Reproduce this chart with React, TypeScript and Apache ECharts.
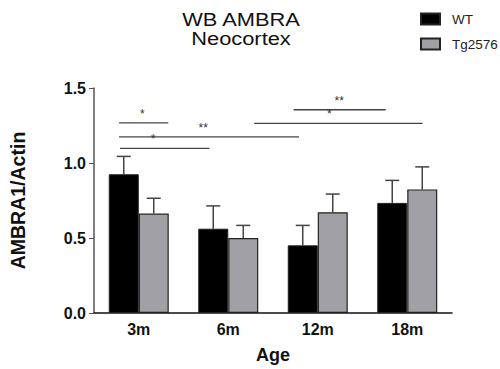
import React, { useEffect, useRef } from "react";
import * as echarts from "echarts";

const categories = ["3m", "6m", "12m", "18m"];
const wtMeans = [0.925, 0.562, 0.451, 0.734];
const wtErr = [1.044, 0.714, 0.584, 0.884];
const tgMeans = [0.663, 0.5, 0.672, 0.824];
const tgErr = [0.765, 0.584, 0.793, 0.974];
const yTicks = { min: 0, max: 1.5, interval: 0.5 };
const titleLines = ["WB AMBRA", "Neocortex"];
// brackets: [xStart, xEnd, y, label, labelX] (x in category-index units)
const brackets: [number, number, number, string, number][] = [
  [-0.22, 0.33, 1.267, "*", 0.04],
  [-0.22, 1.79, 1.174, "**", 0.72],
  [-0.21, 0.79, 1.097, "*", 0.16],
  [1.73, 2.76, 1.355, "**", 2.24],
  [1.29, 3.17, 1.264, "*", 2.13],
];

const FONT = "'Liberation Sans', Arial, sans-serif";
const BAR_W = 30;

export default function App() {
  const ref = useRef<HTMLDivElement>(null);
  useEffect(() => {
    if (!ref.current) return;
    const chart = echarts.init(ref.current, null, { renderer: "svg" });
    const errSeries = (means: number[], errs: number[], off: number) => ({
      type: "custom",
      xAxisIndex: 0,
      yAxisIndex: 0,
      z: 1,
      silent: true,
      data: means.map((m, i) => [i, m, errs[i]]),
      renderItem: (params: any, api: any) => {
        const i = api.value(0);
        const p0 = api.coord([i, api.value(1)]);
        const p1 = api.coord([i, api.value(2)]);
        const x = p0[0] + off;
        const st = { stroke: "#444", lineWidth: 1.5 };
        return {
          type: "group",
          children: [
            { type: "line", shape: { x1: x, y1: p0[1], x2: x, y2: p1[1] }, style: st },
            { type: "line", shape: { x1: x - 7, y1: p1[1], x2: x + 7, y2: p1[1] }, style: st },
          ],
        };
      },
    });
    chart.setOption({
      animation: false,
      graphic: titleLines.map((t, i) => ({
        type: "text",
        x: 241,
        y: 19 + i * 19.5,
        scaleX: 1.15,
        style: {
          text: t,
          align: "center",
          verticalAlign: "middle",
          fontFamily: FONT,
          fontSize: 19,
          fill: "#111",
        },
      })),
      legend: {
        orient: "vertical",
        left: 420,
        top: 12,
        padding: 0,
        itemWidth: 19,
        itemHeight: 11,
        itemGap: 11,
        icon: "rect",
        textStyle: { fontFamily: FONT, fontSize: 13.5, color: "#222", padding: [0, 0, 0, 7] },
        data: ["WT", "Tg2576"],
      },
      grid: { left: 92, right: 48, top: 88, bottom: 54 },
      xAxis: [
        {
          type: "category",
          data: categories,
          name: "Age",
          nameLocation: "middle",
          nameGap: 33,
          nameTextStyle: { fontFamily: FONT, fontSize: 18, fontWeight: "bold", color: "#111" },
          axisLine: { lineStyle: { color: "#111", width: 1.5 } },
          axisTick: { alignWithLabel: true, length: 4, lineStyle: { color: "#111" } },
          axisLabel: { fontFamily: FONT, fontSize: 16, fontWeight: "bold", color: "#111", margin: 8 },
        },
        { type: "value", min: -0.5, max: 3.5, show: false },
      ],
      yAxis: {
        type: "value",
        min: yTicks.min,
        max: yTicks.max,
        interval: yTicks.interval,
        name: "AMBRA1/Actin",
        nameLocation: "middle",
        nameGap: 66,
        nameTextStyle: { fontFamily: FONT, fontSize: 19.5, fontWeight: "bold", color: "#111" },
        splitLine: { show: false },
        axisLine: { show: true, onZero: false, lineStyle: { color: "#555", width: 1.5 } },
        axisTick: { show: true, length: 5, lineStyle: { color: "#555" } },
        axisLabel: {
          fontFamily: FONT,
          fontSize: 16,
          fontWeight: "bold",
          color: "#111",
          margin: 8,
          formatter: (v: number) => v.toFixed(1),
        },
      },
      series: [
        {
          name: "WT",
          type: "bar",
          data: wtMeans,
          barWidth: BAR_W,
          barGap: "0%",
          z: 2,
          itemStyle: { color: "#000", borderColor: "#222", borderWidth: 1 },
        },
        {
          name: "Tg2576",
          type: "bar",
          data: tgMeans,
          barWidth: BAR_W,
          barGap: "0%",
          z: 2,
          itemStyle: { color: "#a1a1a5", borderColor: "#222", borderWidth: 1.2 },
        },
        errSeries(wtMeans, wtErr, -BAR_W / 2),
        errSeries(tgMeans, tgErr, BAR_W / 2),
        {
          type: "custom",
          xAxisIndex: 1,
          yAxisIndex: 0,
          silent: true,
          data: brackets.map((b) => [b[0], b[1], b[2], b[4]]),
          renderItem: (params: any, api: any) => {
            const b = brackets[params.dataIndex];
            const a = api.coord([api.value(0), api.value(2)]);
            const c = api.coord([api.value(1), api.value(2)]);
            const t = api.coord([api.value(3), api.value(2)]);
            return {
              type: "group",
              children: [
                { type: "line", shape: { x1: a[0], y1: a[1], x2: c[0], y2: c[1] }, style: { stroke: "#444", lineWidth: 1.3 } },
                {
                  type: "text",
                  style: {
                    text: b[3],
                    x: t[0],
                    y: a[1] - 3,
                    align: "center",
                    verticalAlign: "bottom",
                    fontFamily: FONT,
                    fontSize: 12,
                    fill: "#333",
                  },
                },
              ],
            };
          },
        },
      ],
    });
    return () => chart.dispose();
  }, []);
  return <div ref={ref} style={{ position: "absolute", left: 0, top: 0, width: 500, height: 369 }} />;
}
